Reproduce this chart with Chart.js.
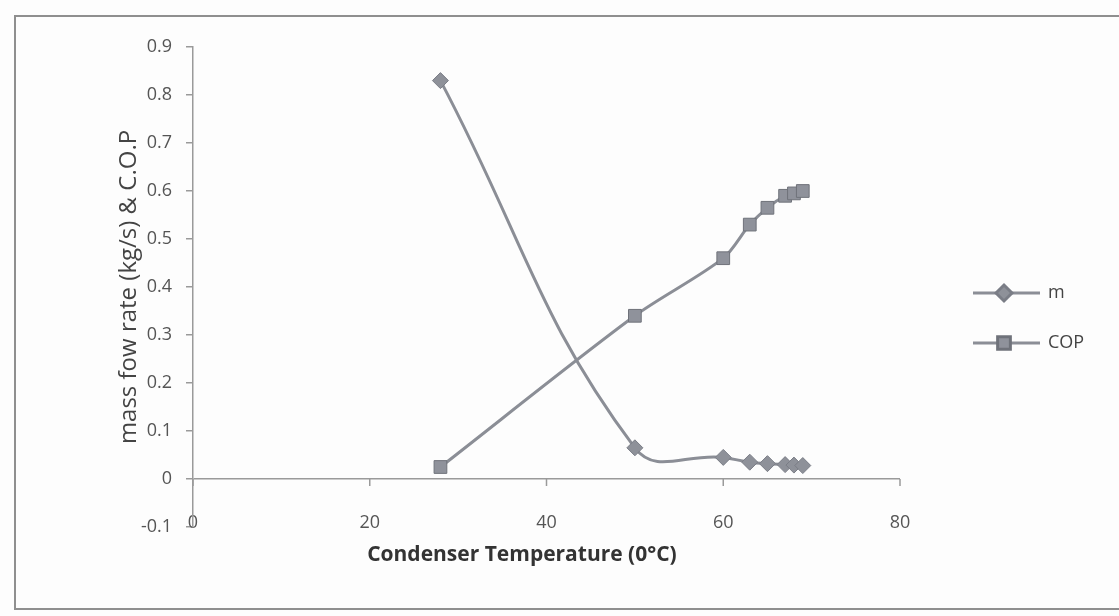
<!DOCTYPE html>
<html><head><meta charset="utf-8">
<script src="https://cdn.jsdelivr.net/npm/chart.js@4.4.1/dist/chart.umd.min.js"></script>
<style>
html,body{margin:0;padding:0;background:#fff;}
#wrap{position:relative;width:1119px;height:616px;overflow:hidden;background:#fdfdfd;}
#frame{position:absolute;left:14px;top:15px;width:1200px;height:595px;border:2px solid #8f8f8f;box-sizing:border-box;}
canvas{position:absolute;left:0;top:0;}
</style></head>
<body><div id="wrap"><div id="frame"></div><canvas id="c" width="1119" height="616"></canvas></div>
<script>
const seriesNames = ['m', 'COP'];
const condenserTemp = [28, 50, 60, 63, 65, 67, 68, 69];
const massFlow = [0.83, 0.065, 0.045, 0.035, 0.032, 0.03, 0.029, 0.028];
const cop = [0.025, 0.34, 0.46, 0.53, 0.565, 0.59, 0.595, 0.6];
const xTicks = [0, 20, 40, 60, 80];
const yTicks = [-0.1, 0, 0.1, 0.2, 0.3, 0.4, 0.5, 0.6, 0.7, 0.8, 0.9];
const xTitle = 'Condenser Temperature (0\u00B0C)';
const yTitle = 'mass fow rate (kg/s) & C.O.P';

const lineCol = '#8b8e96';
const axisCol = '#9a9a9a';
const FONT = "'Open Sans', sans-serif";

const toPts = (ys) => condenserTemp.map((x, i) => ({x: x, y: ys[i]}));

const zeroTicks = {
  id: 'zeroTicks',
  beforeDatasetsDraw(chart) {
    const {ctx, scales: {x, y}} = chart;
    const py = y.getPixelForValue(0);
    ctx.save();
    ctx.strokeStyle = axisCol;
    ctx.lineWidth = 1.5;
    xTicks.forEach(v => {
      const px = x.getPixelForValue(v);
      ctx.beginPath(); ctx.moveTo(px, py); ctx.lineTo(px, py + 7); ctx.stroke();
    });
    ctx.restore();
  }
};

const sideLegend = {
  id: 'sideLegend',
  afterDraw(chart) {
    const {ctx, chartArea} = chart;
    ctx.save();
    chart.data.datasets.forEach((ds, i) => {
      const y0 = 293 + i * 50;
      const x0 = chartArea.right + 73;
      ctx.strokeStyle = ds.borderColor;
      ctx.lineWidth = 3;
      ctx.beginPath(); ctx.moveTo(x0, y0); ctx.lineTo(x0 + 67, y0); ctx.stroke();
      ctx.fillStyle = ds.pointBackgroundColor;
      ctx.strokeStyle = ds.pointBorderColor;
      Chart.helpers.drawPoint(ctx, {pointStyle: ds.pointStyle, radius: ds.pointRadius, borderWidth: 1}, x0 + 31, y0);
      ctx.fillStyle = '#444';
      ctx.font = "18px " + FONT;
      ctx.textBaseline = 'middle';
      ctx.fillText(ds.label, x0 + 75, y0);
    });
    ctx.restore();
  }
};

new Chart(document.getElementById('c'), {
  type: 'line',
  data: {
    datasets: [
      {label: seriesNames[0], data: toPts(massFlow), borderColor: lineCol, borderWidth: 3,
       pointStyle: 'rectRot', pointRadius: 8, pointBackgroundColor: '#8e9199', pointBorderColor: '#7a7d86',
       pointBorderWidth: 1, tension: 0.42, fill: false},
      {label: seriesNames[1], data: toPts(cop), borderColor: lineCol, borderWidth: 3,
       pointStyle: 'rect', pointRadius: 9, pointBackgroundColor: '#8f929b', pointBorderColor: '#6f727a',
       pointBorderWidth: 1, tension: 0.3, fill: false}
    ]
  },
  options: {
    responsive: false,
    animation: false,
    clip: false,
    layout: {padding: {top: 47, right: 219, bottom: 0, left: 0}},
    plugins: {legend: {display: false}, tooltip: {enabled: false}},
    scales: {
      x: {
        type: 'linear', min: 0, max: 80,
        afterBuildTicks: s => { s.ticks = xTicks.map(v => ({value: v})); },
        afterFit: s => { s.height = 89; },
        grid: {display: false},
        border: {display: false},
        ticks: {color: '#555', font: {family: FONT, size: 18}, mirror: true, padding: -7, maxRotation: 0},
        title: {display: true, text: xTitle + '\u00A0'.repeat(9), color: '#333', font: {family: FONT, size: 21, weight: 'bold'}, padding: {top: 0, bottom: 48}}
      },
      y: {
        type: 'linear', min: -0.1, max: 0.9,
        afterBuildTicks: s => { s.ticks = yTicks.map(v => ({value: v})); },
        afterFit: s => { s.width = 193; },
        grid: {color: c => (c.tick && Math.abs(c.tick.value) < 1e-9) ? axisCol : 'rgba(0,0,0,0)', tickColor: axisCol, tickLength: 7, lineWidth: 1.5},
        border: {display: true, color: axisCol, width: 1.5},
        ticks: {color: '#555', font: {family: FONT, size: 18}, padding: 14,
                callback: v => String(Math.round(v * 10) / 10)},
        title: {display: true, text: yTitle, color: '#444', font: {family: FONT, size: 24}, padding: {top: 115, bottom: 0}}
      }
    }
  },
  plugins: [zeroTicks, sideLegend]
});
</script>
</body></html>
